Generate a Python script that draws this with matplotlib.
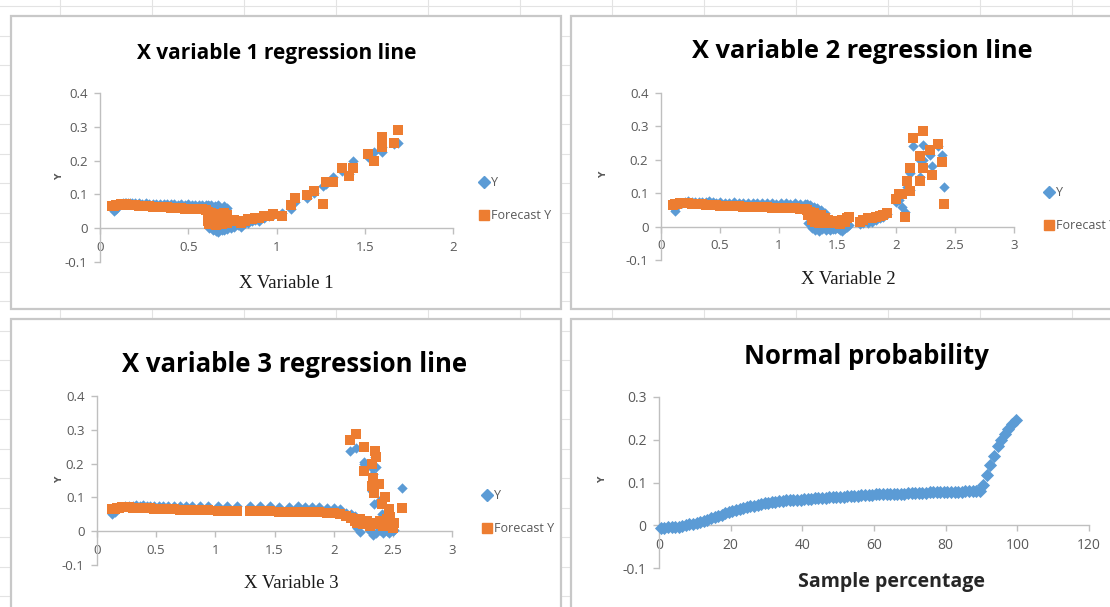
import matplotlib
matplotlib.use('Agg')

import matplotlib.pyplot as plt
from matplotlib.patches import Rectangle
from matplotlib.lines import Line2D
from matplotlib.ticker import FuncFormatter

W, H = 1110, 607

BLUE = '#5B9BD5'
ORANGE = '#ED7D31'
AXIS = '#BFBFBF'
TXT = '#595959'
SANS = ['Open Sans', 'DejaVu Sans']

# X variable 1 regression line
x1 = [0.07, 0.08, 0.09, 0.10, 0.11, 0.12, 0.13, 0.14, 0.15, 0.16,
      0.17, 0.18, 0.20, 0.22, 0.24, 0.26, 0.28, 0.30, 0.32, 0.34,
      0.36, 0.38, 0.40, 0.42, 0.44, 0.46, 0.48, 0.50, 0.52, 0.54,
      0.56, 0.58, 0.60, 0.61, 0.61, 0.62, 0.62, 0.63, 0.64, 0.65,
      0.66, 0.67, 0.67, 0.68, 0.69, 0.70, 0.70, 0.71, 0.72, 0.72,
      0.74, 0.76, 0.78, 0.80, 0.82, 0.84, 0.86, 0.88, 0.90, 0.93,
      0.96, 0.98, 1.03, 1.08, 1.105, 1.17, 1.215, 1.265, 1.28, 1.32,
      1.37, 1.41, 1.435, 1.52, 1.55, 1.595, 1.60, 1.665, 1.69]
y1 = [0.062, 0.052, 0.058, 0.066, 0.070, 0.072, 0.074, 0.075, 0.076, 0.075,
      0.076, 0.075, 0.074, 0.075, 0.073, 0.074, 0.073, 0.072, 0.073, 0.072,
      0.071, 0.072, 0.071, 0.073, 0.070, 0.071, 0.070, 0.071, 0.069, 0.070,
      0.070, 0.069, 0.068, 0.068, 0.010, 0.065, 0.000, 0.070, -0.005, 0.066,
      -0.008, 0.068, -0.010, 0.050, -0.006, 0.065, -0.004, 0.060, -0.002, 0.060,
      0.000, 0.005, 0.010, 0.005, 0.015, 0.015, 0.020, 0.025, 0.022, 0.030,
      0.035, 0.040, 0.045, 0.058, 0.078, 0.090, 0.105, 0.124, 0.130, 0.152,
      0.170, 0.160, 0.200, 0.210, 0.226, 0.240, 0.226, 0.250, 0.251]
f1 = [0.066, 0.066, 0.068, 0.069, 0.070, 0.071, 0.071, 0.072, 0.071, 0.070,
      0.070, 0.069, 0.068, 0.067, 0.066, 0.066, 0.065, 0.064, 0.063, 0.063,
      0.062, 0.062, 0.061, 0.060, 0.060, 0.059, 0.058, 0.058, 0.057, 0.057,
      0.056, 0.056, 0.055, 0.048, 0.020, 0.040, 0.012, 0.045, 0.015, 0.035,
      0.010, 0.042, 0.020, 0.030, 0.012, 0.045, 0.025, 0.035, 0.015, 0.040,
      0.020, 0.025, 0.022, 0.015, 0.022, 0.026, 0.028, 0.030, 0.030, 0.035,
      0.036, 0.042, 0.035, 0.068, 0.088, 0.098, 0.110, 0.071, 0.137, 0.137,
      0.177, 0.155, 0.177, 0.219, 0.198, 0.270, 0.239, 0.251, 0.290]

# X variable 2 regression line
x2 = [0.10, 0.12, 0.14, 0.16, 0.18, 0.20, 0.23, 0.26, 0.29, 0.32,
      0.35, 0.38, 0.41, 0.44, 0.47, 0.50, 0.54, 0.58, 0.62, 0.66,
      0.70, 0.74, 0.78, 0.82, 0.86, 0.90, 0.94, 0.98, 1.02, 1.06,
      1.10, 1.14, 1.18, 1.22, 1.24, 1.25, 1.27, 1.28, 1.30, 1.31,
      1.33, 1.34, 1.36, 1.37, 1.39, 1.40, 1.42, 1.44, 1.46, 1.48,
      1.50, 1.52, 1.54, 1.56, 1.58, 1.60, 1.69, 1.72, 1.76, 1.79,
      1.83, 1.86, 1.89, 1.92, 2.00, 2.02, 2.05, 2.07, 2.09, 2.115,
      2.12, 2.145, 2.20, 2.205, 2.225, 2.23, 2.285, 2.30, 2.355, 2.39,
      2.405]
y2 = [0.060, 0.048, 0.062, 0.070, 0.072, 0.074, 0.076, 0.075, 0.074, 0.075,
      0.073, 0.074, 0.076, 0.073, 0.072, 0.073, 0.071, 0.072, 0.073, 0.071,
      0.072, 0.071, 0.072, 0.070, 0.072, 0.070, 0.071, 0.069, 0.070, 0.071,
      0.069, 0.070, 0.069, 0.068, 0.068, 0.010, 0.065, -0.005, 0.060, -0.010,
      0.055, -0.012, 0.050, -0.008, 0.040, -0.010, -0.005, -0.010, -0.008, -0.006,
      -0.004, -0.010, -0.012, -0.005, 0.000, 0.005, 0.008, 0.010, 0.012, 0.013,
      0.020, 0.025, 0.030, 0.038, 0.075, 0.080, 0.060, 0.045, 0.120, 0.160,
      0.110, 0.240, 0.200, 0.150, 0.245, 0.200, 0.215, 0.180, 0.240, 0.214,
      0.118]
f2 = [0.065, 0.067, 0.069, 0.070, 0.071, 0.071, 0.070, 0.069, 0.068, 0.067,
      0.067, 0.066, 0.065, 0.065, 0.064, 0.063, 0.062, 0.062, 0.061, 0.061,
      0.060, 0.060, 0.059, 0.059, 0.058, 0.058, 0.057, 0.057, 0.056, 0.056,
      0.055, 0.055, 0.054, 0.054, 0.050, 0.035, 0.045, 0.020, 0.040, 0.015,
      0.030, 0.010, 0.035, 0.012, 0.025, 0.010, 0.020, 0.015, 0.018, 0.012,
      0.010, 0.008, 0.020, 0.015, 0.025, 0.028, 0.013, 0.020, 0.025, 0.026,
      0.030, 0.033, 0.036, 0.042, 0.082, 0.097, 0.097, 0.030, 0.136, 0.174,
      0.107, 0.265, 0.210, 0.136, 0.287, 0.174, 0.230, 0.154, 0.247, 0.193,
      0.069]

# X variable 3 regression line
x3 = [0.13, 0.15, 0.17, 0.19, 0.21, 0.24, 0.27, 0.30, 0.33, 0.36,
      0.39, 0.42, 0.45, 0.48, 0.52, 0.56, 0.60, 0.65, 0.70, 0.75,
      0.80, 0.87, 0.94, 1.02, 1.10, 1.18, 1.29, 1.38, 1.46, 1.54,
      1.62, 1.70, 1.76, 1.82, 1.88, 1.94, 2.00, 2.05, 2.10, 2.15,
      2.18, 2.20, 2.22, 2.25, 2.28, 2.31, 2.33, 2.36, 2.39, 2.42,
      2.45, 2.47, 2.50, 2.51, 2.14, 2.19, 2.26, 2.35, 2.36, 2.32,
      2.26, 2.335, 2.32, 2.38, 2.34, 2.435, 2.41, 2.465, 2.48, 2.58]
y3 = [0.050, 0.058, 0.066, 0.070, 0.072, 0.074, 0.075, 0.076, 0.077, 0.076,
      0.077, 0.076, 0.075, 0.076, 0.075, 0.076, 0.074, 0.075, 0.076, 0.075,
      0.074, 0.074, 0.075, 0.074, 0.074, 0.074, 0.075, 0.074, 0.074, 0.073,
      0.073, 0.074, 0.073, 0.073, 0.072, 0.070, 0.068, 0.066, 0.055, 0.050,
      0.045, 0.010, -0.002, 0.030, 0.020, 0.000, -0.010, -0.005, 0.005, -0.005,
      0.000, -0.005, 0.000, 0.005, 0.237, 0.245, 0.205, 0.220, 0.190, 0.186,
      0.200, 0.170, 0.120, 0.090, 0.080, 0.050, 0.050, 0.020, 0.000, 0.127]
f3 = [0.065, 0.067, 0.069, 0.070, 0.071, 0.071, 0.071, 0.070, 0.070, 0.069,
      0.069, 0.068, 0.068, 0.067, 0.067, 0.066, 0.066, 0.065, 0.064, 0.064,
      0.063, 0.062, 0.062, 0.061, 0.061, 0.060, 0.060, 0.059, 0.059, 0.058,
      0.058, 0.058, 0.057, 0.057, 0.056, 0.055, 0.054, 0.052, 0.045, 0.040,
      0.030, 0.025, 0.035, 0.020, 0.030, 0.015, 0.025, 0.020, 0.030, 0.015,
      0.035, 0.020, 0.010, 0.025, 0.270, 0.289, 0.250, 0.238, 0.219, 0.200,
      0.179, 0.156, 0.133, 0.141, 0.112, 0.100, 0.080, 0.067, 0.042, 0.070]

# Normal probability (sorted Y)
y_sorted = [-0.006, -0.006, -0.005, -0.005, -0.005, -0.004, -0.002, 0.000, 0.002, 0.004,
            0.006, 0.008, 0.011, 0.013, 0.016, 0.019, 0.022, 0.025, 0.028, 0.031,
            0.034, 0.036, 0.038, 0.040, 0.042, 0.044, 0.046, 0.048, 0.050, 0.052,
            0.053, 0.054, 0.055, 0.056, 0.057, 0.058, 0.058, 0.059, 0.060, 0.060,
            0.061, 0.062, 0.062, 0.063, 0.063, 0.064, 0.064, 0.065, 0.066, 0.066,
            0.067, 0.067, 0.068, 0.068, 0.069, 0.069, 0.070, 0.070, 0.071, 0.071,
            0.072, 0.072, 0.072, 0.073, 0.073, 0.073, 0.074, 0.074, 0.074, 0.075,
            0.075, 0.075, 0.076, 0.076, 0.076, 0.077, 0.077, 0.077, 0.077, 0.077,
            0.078, 0.078, 0.078, 0.078, 0.078, 0.079, 0.079, 0.079, 0.080, 0.080,
            0.095, 0.118, 0.140, 0.163, 0.185, 0.200, 0.213, 0.225, 0.237, 0.247]
pct = [100.0 * (i + 0.5) / len(y_sorted) for i in range(len(y_sorted))]


def px_rect(x0, y0, x1, y1):
    return [x0 / W, 1 - y1 / H, (x1 - x0) / W, (y1 - y0) / H]


def ftext(fig, x, y, s, **kw):
    fig.text(x / W, 1 - y / H, s, ha='center', va='center', **kw)


def style_axes(ax, xmax, xstep, ymin, ymax, size=9.5):
    ax.set_xlim(0, xmax)
    ax.set_ylim(ymin, ymax)
    ax.patch.set_alpha(0)
    for side in ['top', 'right']:
        ax.spines[side].set_visible(False)
    ax.spines['bottom'].set_position(('data', 0))
    for side in ['left', 'bottom']:
        ax.spines[side].set_color(AXIS)
        ax.spines[side].set_linewidth(1.0)
    n = int(round(xmax / xstep))
    ax.set_xticks([xstep * i for i in range(n + 1)])
    m = int(round((ymax - ymin) / 0.1))
    ax.set_yticks([round(ymin + 0.1 * i, 1) for i in range(m + 1)])
    fmt = FuncFormatter(lambda v, p: '%g' % round(v, 2))
    ax.xaxis.set_major_formatter(fmt)
    ax.yaxis.set_major_formatter(fmt)
    ax.tick_params(axis='x', direction='out', length=4, width=1, color=AXIS,
                   labelcolor=TXT, labelsize=size, pad=5)
    ax.tick_params(axis='y', direction='out', length=4, width=1, color=AXIS,
                   labelcolor=TXT, labelsize=size, pad=5)
    for lab in ax.get_xticklabels() + ax.get_yticklabels():
        lab.set_family(SANS)


def scatter_pair(ax, xs, ys, fs):
    ax.scatter(xs, ys, marker='D', s=28, color=BLUE, linewidths=0, zorder=3,
               clip_on=False)
    ax.scatter(xs, fs, marker='s', s=50, color=ORANGE, linewidths=0, zorder=4,
               clip_on=False)


def add_legend(fig, x, y):
    handles = [Line2D([], [], marker='D', markersize=6, color=BLUE, lw=0),
               Line2D([], [], marker='s', markersize=7.5, color=ORANGE, lw=0)]
    fig.legend(handles, ['Y', 'Forecast Y'], loc='upper left',
               bbox_to_anchor=(x / W, 1 - y / H), frameon=False,
               borderpad=0, handlelength=0.6, handletextpad=0.25,
               labelspacing=1.6, labelcolor=TXT,
               prop={'family': SANS, 'size': 9})


def main():
    fig = plt.figure(figsize=(W / 100.0, H / 100.0), dpi=100)
    fig.patch.set_facecolor('white')

    # spreadsheet grid behind the charts
    bg = fig.add_axes([0, 0, 1, 1])
    bg.set_xlim(0, W)
    bg.set_ylim(H, 0)
    bg.axis('off')
    for gx in range(60, W, 92):
        bg.plot([gx, gx], [0, H], color='#E3E3E3', lw=0.8, zorder=0)
    for k in range(21):
        gy = 6 + 29.5 * k
        bg.plot([0, W], [gy, gy], color='#E3E3E3', lw=0.8, zorder=0)
    for (x0, y0, x1_, y1_) in [(11, 16, 561, 309), (571, 16, 1120, 309),
                               (11, 319, 561, 620), (571, 319, 1120, 620)]:
        bg.add_patch(Rectangle((x0, y0), x1_ - x0, y1_ - y0, facecolor='white',
                               edgecolor='#C8C8C8', lw=1.6, zorder=1))

    title_kw = dict(fontweight='bold', color='black', family=SANS)
    serif_kw = dict(family=['Liberation Serif', 'DejaVu Serif'], fontsize=13.5,
                    color='#1a1a1a')
    ylab_kw = dict(fontweight='bold', fontsize=6.5, rotation=90, color=TXT)

    # panel 1
    ax1 = fig.add_axes(px_rect(100, 93, 453, 262))
    style_axes(ax1, 2, 0.5, -0.1, 0.4)
    scatter_pair(ax1, x1, y1, f1)
    ftext(fig, 277, 54, 'X variable 1 regression line', fontsize=15,
          **title_kw)
    ftext(fig, 286, 283, 'X Variable 1', **serif_kw)
    ftext(fig, 60, 177, 'Y', **ylab_kw)
    add_legend(fig, 474, 170)

    # panel 2
    ax2 = fig.add_axes(px_rect(661, 93, 1014, 260))
    style_axes(ax2, 3, 0.5, -0.1, 0.4)
    scatter_pair(ax2, x2, y2, f2)
    ftext(fig, 862, 52, 'X variable 2 regression line', fontsize=18.3,
          **title_kw)
    ftext(fig, 848, 280, 'X Variable 2', **serif_kw)
    ftext(fig, 604, 175, 'Y', **ylab_kw)
    add_legend(fig, 1039, 180)

    # panel 3
    ax3 = fig.add_axes(px_rect(97, 396, 452, 565))
    style_axes(ax3, 3, 0.5, -0.1, 0.4)
    scatter_pair(ax3, x3, y3, f3)
    ftext(fig, 295, 364, 'X variable 3 regression line', fontsize=18.5,
          **title_kw)
    ftext(fig, 291, 583, 'X Variable 3', **serif_kw)
    ftext(fig, 60, 480, 'Y', **ylab_kw)
    add_legend(fig, 477, 483)

    # panel 4
    ax4 = fig.add_axes(px_rect(659, 397, 1089, 568))
    style_axes(ax4, 120, 20, -0.1, 0.3, size=10)
    ax4.scatter(pct, y_sorted, marker='D', s=45, color=BLUE, linewidths=0,
                zorder=3, clip_on=False)
    ftext(fig, 866, 357, 'Normal probability', fontsize=18.5, **title_kw)
    ftext(fig, 891, 582, 'Sample percentage', fontsize=14, fontweight='bold',
          color='#262626', family=SANS)
    ftext(fig, 603, 480, 'Y', **ylab_kw)

    fig.savefig('out.png', dpi=100)


if __name__ == '__main__':
    main()
